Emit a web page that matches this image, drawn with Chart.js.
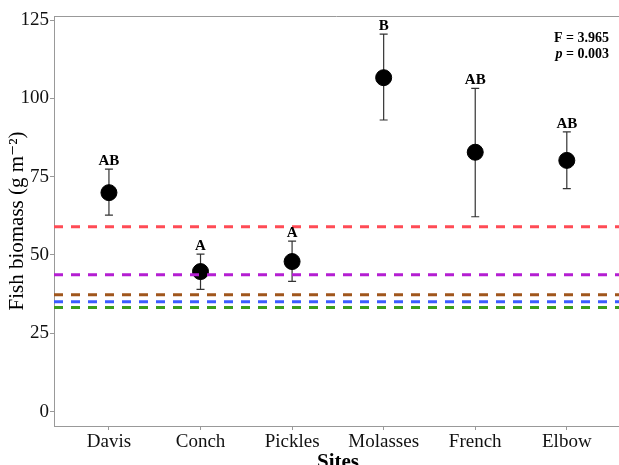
<!DOCTYPE html>
<html>
<head>
<meta charset="utf-8">
<script src="https://cdn.jsdelivr.net/npm/chart.js@4"></script>
<style>
  html, body { margin: 0; padding: 0; background: #fff; }
  #wrap { width: 619px; height: 465px; }
</style>
</head>
<body>
<div id="wrap"><canvas id="myChart" width="619" height="465"></canvas></div>
<script>
const sites = ['Davis', 'Conch', 'Pickles', 'Molasses', 'French', 'Elbow'];
const biomass = [69.9, 44.7, 47.9, 106.6, 82.8, 80.2];
const upper = [77.4, 50.3, 54.4, 120.5, 103.2, 89.3];
const lower = [62.7, 39.0, 41.6, 93.1, 62.2, 71.2];
const letters = ['AB', 'A', 'A', 'B', 'AB', 'AB'];
const yTicks = [0, 25, 50, 75, 100, 125];

const refLines = [59.0, 43.7, 37.3, 35.1, 33.2];
const refColors = ['#FF4B55', '#B41ED2', '#A0561C', '#3B5BFF', '#3C9E1C'];

const serif = '"Liberation Serif", "DejaVu Serif", serif';
const xMin = -0.6, xMax = 5.57;

const points = sites.map((s, i) => ({ x: i, y: biomass[i] }));

const lineSets = refLines.map((v, i) => ({
    type: 'line',
    data: [{ x: xMin, y: v }, { x: xMax, y: v }],
    borderColor: refColors[i],
    borderWidth: 3,
    borderDash: [9, 8],
    pointRadius: 0,
    order: 0
}));

// error bars, letters, panel border and stats text
const extras = {
    id: 'extras',
    beforeDatasetsDraw(chart) {
        const { ctx, scales: { x, y } } = chart;
        ctx.save();
        ctx.strokeStyle = '#333';
        ctx.lineWidth = 1.2;
        sites.forEach((s, i) => {
            const px = x.getPixelForValue(i);
            const t = y.getPixelForValue(upper[i]);
            const b = y.getPixelForValue(lower[i]);
            ctx.beginPath();
            ctx.moveTo(px, t); ctx.lineTo(px, b);
            ctx.moveTo(px - 4, t); ctx.lineTo(px + 4, t);
            ctx.moveTo(px - 4, b); ctx.lineTo(px + 4, b);
            ctx.stroke();
        });
        ctx.restore();
    },
    afterDraw(chart) {
        const { ctx, chartArea: a, scales: { x, y } } = chart;
        ctx.save();
        ctx.strokeStyle = '#999';
        ctx.lineWidth = 1;
        ctx.beginPath();
        ctx.moveTo(a.left, a.top + 0.5);
        ctx.lineTo(a.right, a.top + 0.5);
        ctx.stroke();

        ctx.fillStyle = '#000';
        ctx.textAlign = 'center';
        ctx.textBaseline = 'alphabetic';
        ctx.font = 'bold 15px ' + serif;
        sites.forEach((s, i) => {
            ctx.fillText(letters[i], x.getPixelForValue(i), y.getPixelForValue(upper[i]) - 4);
        });

        ctx.textAlign = 'right';
        ctx.font = 'bold 14px ' + serif;
        ctx.fillText('F = 3.965', 609, 42);
        const rest = ' = 0.003';
        const w = ctx.measureText(rest).width;
        ctx.fillText(rest, 609, 58);
        ctx.font = 'italic bold 14px ' + serif;
        ctx.fillText('p', 609 - w, 58);

        ctx.textAlign = 'center';
        ctx.font = 'bold 21px ' + serif;
        ctx.fillText('Sites', (a.left + 622) / 2, 468);

        ctx.translate(23, (a.top + a.bottom) / 2);
        ctx.rotate(-Math.PI / 2);
        ctx.font = '21px ' + serif;
        ctx.fillText('Fish biomass (g m\u207B\u00B2)', 0, 0);
        ctx.restore();
    }
};

const config = {
    type: 'scatter',
    data: {
        datasets: [{
            data: points,
            backgroundColor: '#000',
            borderColor: '#000',
            pointRadius: 8,
            pointHoverRadius: 8,
            order: 1
        }, ...lineSets]
    },
    options: {
        responsive: false,
        animation: false,
        layout: { autoPadding: false, padding: { top: 16, right: 0, left: 0, bottom: 0 } },
        plugins: { legend: { display: false }, tooltip: { enabled: false } },
        scales: {
            x: {
                type: 'linear',
                min: xMin,
                max: xMax,
                afterBuildTicks: s => { s.ticks = sites.map((c, i) => ({ value: i })); },
                afterFit: s => { s.height = 39; },
                ticks: {
                    autoSkip: false,
                    maxRotation: 0,
                    color: '#111',
                    font: { family: serif, size: 19 },
                    padding: 1,
                    callback: v => sites[v]
                },
                grid: { drawOnChartArea: false, tickLength: 4, color: '#999' },
                border: { color: '#999', width: 1 }
            },
            y: {
                min: -4.6,
                max: 126.3,
                afterBuildTicks: s => { s.ticks = yTicks.map(v => ({ value: v })); },
                afterFit: s => { s.width = 54; },
                ticks: {
                    color: '#111',
                    font: { family: serif, size: 19 },
                    padding: 1
                },
                grid: { drawOnChartArea: false, tickLength: 4, color: '#999' },
                border: { color: '#999', width: 1 }
            }
        }
    },
    plugins: [extras]
};

const myChart = new Chart(document.getElementById('myChart'), config);
</script>
</body>
</html>
